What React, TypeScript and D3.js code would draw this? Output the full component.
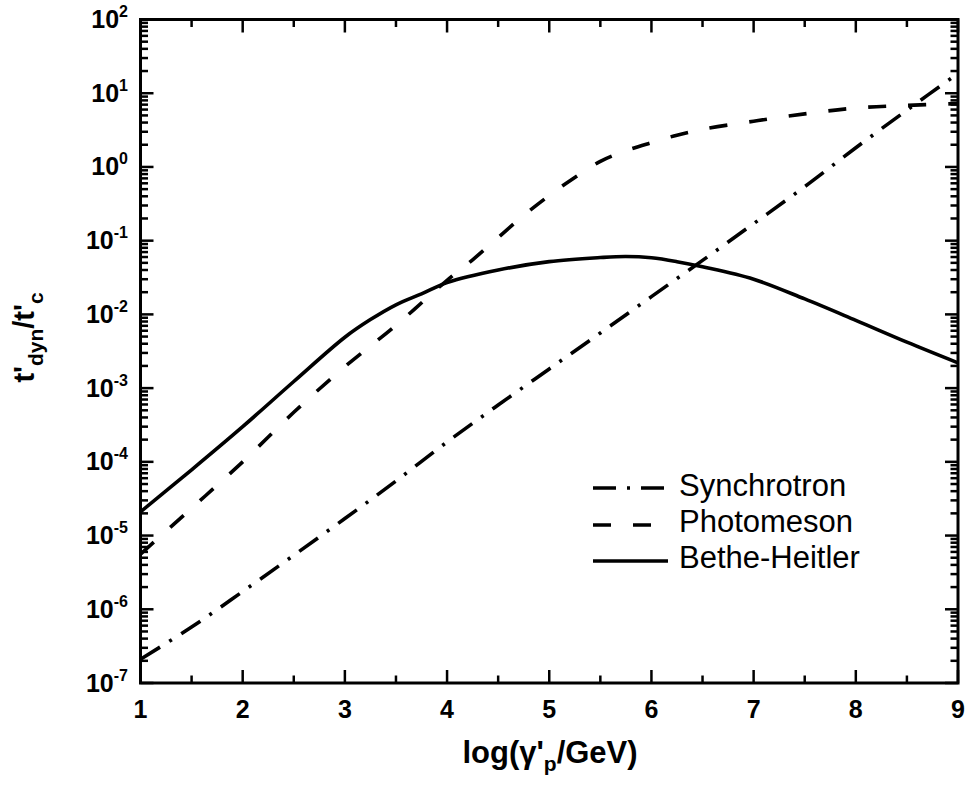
import React from "react";
import * as d3 from "d3";

// log(gamma'_p / GeV) grid and t'_dyn / t'_c values
const synchX = [1, 1.5, 2, 2.5, 3, 3.5, 4, 4.5, 5, 5.5, 6, 6.5, 7, 7.5, 8, 8.5, 9];
const synchY = [2.1e-7, 5.75e-7, 1.74e-6, 5.4e-6, 1.7e-5, 5.5e-5, 1.86e-4, 5.9e-4, 1.82e-3, 5.6e-3, 1.74e-2, 5.4e-2, 0.17, 0.54, 1.82, 5.9, 18.6];

const photoX = [1, 1.5, 2, 2.5, 3, 3.5, 4, 4.25, 4.5, 4.75, 5, 5.25, 5.5, 5.75, 6, 6.25, 6.5, 7, 7.5, 8, 8.5, 9];
const photoY = [5.6e-6, 2.35e-5, 1.0e-4, 4.7e-4, 1.95e-3, 7.1e-3, 2.9e-2, 5.5e-2, 0.11, 0.22, 0.41, 0.72, 1.19, 1.66, 2.14, 2.7, 3.24, 4.17, 5.25, 6.3, 6.84, 7.24];

const bhX = [1, 1.5, 2, 2.5, 3, 3.25, 3.5, 3.75, 4, 4.5, 5, 5.5, 5.75, 6, 6.25, 6.5, 7, 7.5, 8, 8.5, 9];
const bhY = [2.1e-5, 7.8e-5, 3.0e-4, 1.23e-3, 4.9e-3, 8.5e-3, 1.35e-2, 1.9e-2, 2.7e-2, 4.0e-2, 5.2e-2, 5.9e-2, 6.1e-2, 5.86e-2, 5.19e-2, 4.42e-2, 3.0e-2, 1.62e-2, 8.3e-3, 4.2e-3, 2.2e-3];

const xTicks = [1, 2, 3, 4, 5, 6, 7, 8, 9];
const yExponents = [-7, -6, -5, -4, -3, -2, -1, 0, 1, 2];

const seriesNames = ["Synchrotron", "Photomeson", "Bethe-Heitler"];

const W = 969;
const H = 793;
const left = 140.5;
const right = 958;
const top = 19.5;
const bottom = 683;

const FONT = "'Liberation Sans', Arial, Helvetica, sans-serif";

export default function App() {
  const x = d3.scaleLinear().domain([1, 9]).range([left, right]);
  const y = d3.scaleLog().domain([1e-7, 1e2]).range([bottom, top]);

  const line = d3
    .line<[number, number]>()
    .x((d) => x(d[0]))
    .y((d) => y(d[1]))
    .curve(d3.curveCatmullRom.alpha(0.5));

  const zip = (xs: number[], ys: number[]) => xs.map((v, i) => [v, ys[i]] as [number, number]);

  const series = [
    { name: seriesNames[0], d: line(zip(synchX, synchY)) || "", dash: "23 11 3 11" },
    { name: seriesNames[1], d: line(zip(photoX, photoY)) || "", dash: "18 22" },
    { name: seriesNames[2], d: line(zip(bhX, bhY)) || "", dash: "none" },
  ];

  const majorLen = 13;
  const minorLen = 7.5;
  const tickW = 2.5;

  const xMinor: number[] = [];
  for (let v = 1.5; v < 9; v += 1) xMinor.push(v);
  const yMinor: number[] = [];
  for (let e = -7; e < 2; e++) for (let m = 2; m <= 9; m++) yMinor.push(m * Math.pow(10, e));

  const ticks: React.ReactNode[] = [];
  xTicks.forEach((v, i) => {
    const px = x(v);
    ticks.push(<line key={`xb${i}`} x1={px} x2={px} y1={bottom} y2={bottom - majorLen} />);
    ticks.push(<line key={`xt${i}`} x1={px} x2={px} y1={top} y2={top + majorLen} />);
  });
  xMinor.forEach((v, i) => {
    const px = x(v);
    ticks.push(<line key={`xmb${i}`} x1={px} x2={px} y1={bottom} y2={bottom - minorLen} />);
    ticks.push(<line key={`xmt${i}`} x1={px} x2={px} y1={top} y2={top + minorLen} />);
  });
  yExponents.forEach((e, i) => {
    const py = y(Math.pow(10, e));
    ticks.push(<line key={`yl${i}`} x1={left} x2={left + majorLen} y1={py} y2={py} />);
    ticks.push(<line key={`yr${i}`} x1={right} x2={right - majorLen} y1={py} y2={py} />);
  });
  yMinor.forEach((v, i) => {
    const py = y(v);
    ticks.push(<line key={`yml${i}`} x1={left} x2={left + minorLen} y1={py} y2={py} />);
    ticks.push(<line key={`ymr${i}`} x1={right} x2={right - minorLen} y1={py} y2={py} />);
  });

  const legendRows = [488, 525, 561];
  const legendBaselines = [496, 531.5, 567.5];

  return (
    <svg
      width={W}
      height={H}
      style={{ position: "absolute", left: 0, top: 0, background: "#fff" }}
      fontFamily={FONT}
    >
      <rect x={0} y={0} width={W} height={H} fill="#fff" />
      <defs>
        <clipPath id="plotclip">
          <rect x={left} y={top} width={right - left} height={bottom - top} />
        </clipPath>
      </defs>

      <g clipPath="url(#plotclip)">
        {series.map((s) => (
          <path
            key={s.name}
            d={s.d}
            fill="none"
            stroke="#000"
            strokeWidth={3.6}
            strokeDasharray={s.dash}
            strokeLinecap="butt"
          />
        ))}
      </g>

      <g stroke="#000" strokeWidth={tickW}>
        {ticks}
      </g>
      <rect
        x={left}
        y={top}
        width={right - left}
        height={bottom - top}
        fill="none"
        stroke="#000"
        strokeWidth={3}
      />

      {/* x tick labels */}
      {xTicks.map((v) => (
        <text key={`xl${v}`} x={x(v)} y={718} textAnchor="middle" fontSize={25} fontWeight="bold">
          {v}
        </text>
      ))}

      {/* y tick labels */}
      {yExponents.map((e) => (
        <text
          key={`ylab${e}`}
          x={128}
          y={y(Math.pow(10, e)) + 8.5}
          textAnchor="end"
          fontSize={25}
          fontWeight="bold"
        >
          10
          <tspan dy={-11} fontSize={16}>
            {e}
          </tspan>
        </text>
      ))}

      {/* x axis title */}
      <text x={550} y={763} textAnchor="middle" fontSize={31} fontWeight="bold">
        log(γ'
        <tspan dy={8} fontSize={21}>
          p
        </tspan>
        <tspan dy={-8}>/GeV)</tspan>
      </text>

      {/* y axis title */}
      <text
        transform={`translate(34, 337.5) rotate(-90)`}
        textAnchor="middle"
        fontSize={29}
        fontWeight="bold"
      >
        t'
        <tspan dy={9} fontSize={21}>
          dyn
        </tspan>
        <tspan dy={-9}>/t'</tspan>
        <tspan dy={9} fontSize={21}>
          c
        </tspan>
      </text>

      {/* legend */}
      {series.map((s, i) => (
        <g key={`leg${i}`}>
          <line
            x1={593}
            x2={668}
            y1={legendRows[i]}
            y2={legendRows[i]}
            stroke="#000"
            strokeWidth={3.6}
            strokeDasharray={s.dash}
          />
          <text x={679} y={legendBaselines[i]} fontSize={31}>
            {s.name}
          </text>
        </g>
      ))}
    </svg>
  );
}
